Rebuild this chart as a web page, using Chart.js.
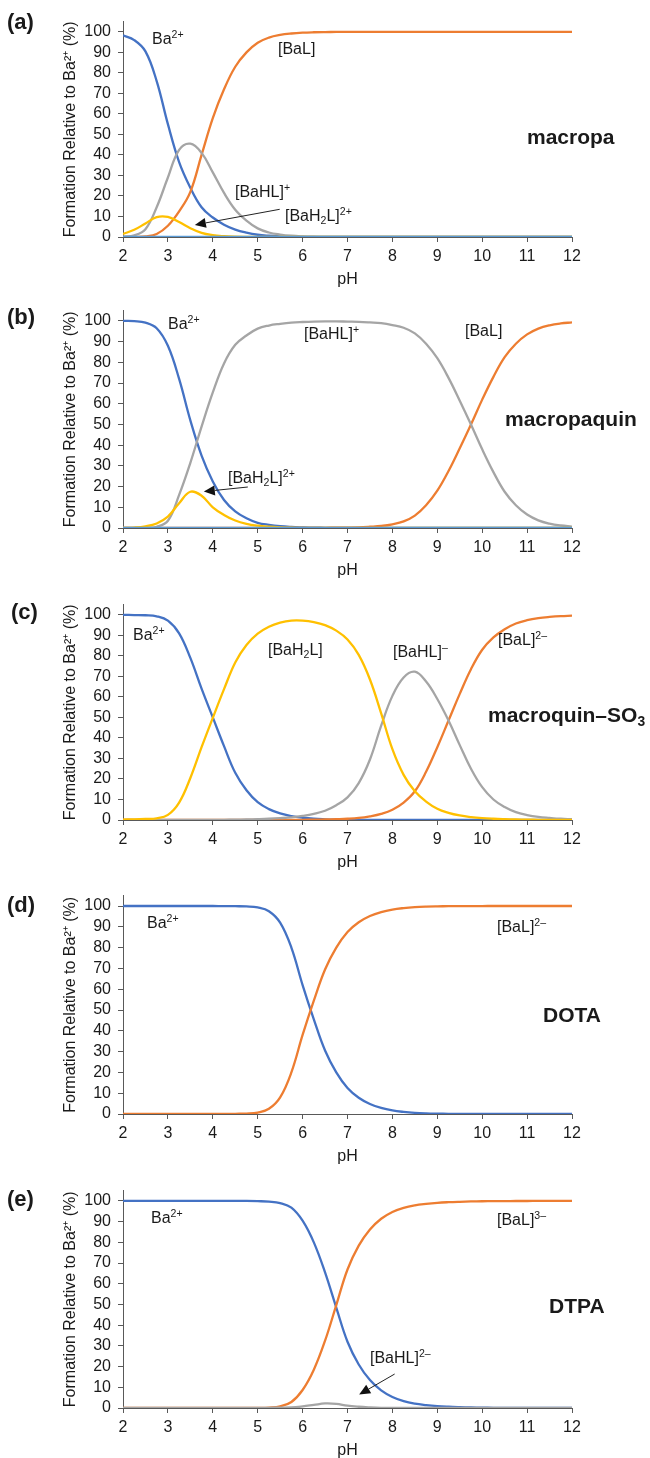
<!DOCTYPE html>
<html><head><meta charset="utf-8">
<script src="https://cdn.jsdelivr.net/npm/chart.js@4.4.1/dist/chart.umd.min.js"></script>
<style>
html,body{margin:0;padding:0;background:#fff;}
body{width:650px;height:1458px;position:relative;overflow:hidden;font-family:"Liberation Sans",Arial,sans-serif;color:#1a1a1a;}
canvas{position:absolute;left:0;}
.lbl{position:absolute;white-space:nowrap;font-size:16px;line-height:16px;}
.lbl sup,.lbl sub{font-size:0.66em;position:relative;vertical-align:baseline;line-height:0;}
.lbl sup{top:-0.55em;}
.lbl sub{top:0.3em;}
.name{font-weight:bold;font-size:21px;line-height:21px;}
.tag{font-weight:bold;font-size:22px;line-height:22px;}
</style></head><body>
<canvas id="ca"></canvas><canvas id="cb"></canvas><canvas id="cc"></canvas><canvas id="cd"></canvas><canvas id="ce"></canvas>

<div class="lbl tag" style="left:7px;top:11px">(a)</div>
<div class="lbl" style="left:152px;top:31px">Ba<sup>2+</sup></div>
<div class="lbl" style="left:278px;top:41px">[BaL]</div>
<div class="lbl" style="left:235px;top:184px">[BaHL]<sup>+</sup></div>
<div class="lbl" style="left:285px;top:208px">[BaH<sub>2</sub>L]<sup>2+</sup></div>
<div class="lbl name" style="left:527px;top:126px">macropa</div>

<div class="lbl tag" style="left:7px;top:306px">(b)</div>
<div class="lbl" style="left:168px;top:316px">Ba<sup>2+</sup></div>
<div class="lbl" style="left:304px;top:326px">[BaHL]<sup>+</sup></div>
<div class="lbl" style="left:465px;top:323px">[BaL]</div>
<div class="lbl" style="left:228px;top:470px">[BaH<sub>2</sub>L]<sup>2+</sup></div>
<div class="lbl name" style="left:505px;top:408px">macropaquin</div>

<div class="lbl tag" style="left:11px;top:601px">(c)</div>
<div class="lbl" style="left:133px;top:627px">Ba<sup>2+</sup></div>
<div class="lbl" style="left:268px;top:642px">[BaH<sub>2</sub>L]</div>
<div class="lbl" style="left:393px;top:644px">[BaHL]<sup>–</sup></div>
<div class="lbl" style="left:498px;top:632px">[BaL]<sup>2–</sup></div>
<div class="lbl name" style="left:488px;top:704px">macroquin–SO<sub>3</sub></div>

<div class="lbl tag" style="left:7px;top:894px">(d)</div>
<div class="lbl" style="left:147px;top:915px">Ba<sup>2+</sup></div>
<div class="lbl" style="left:497px;top:919px">[BaL]<sup>2–</sup></div>
<div class="lbl name" style="left:543px;top:1004px">DOTA</div>

<div class="lbl tag" style="left:7px;top:1188px">(e)</div>
<div class="lbl" style="left:151px;top:1210px">Ba<sup>2+</sup></div>
<div class="lbl" style="left:497px;top:1212px">[BaL]<sup>3–</sup></div>
<div class="lbl name" style="left:549px;top:1295px">DTPA</div>
<div class="lbl" style="left:370px;top:1350px">[BaHL]<sup>2–</sup></div>

<script>
// ---------- data ----------
const pH = [2,2.25,2.5,2.75,3,3.25,3.5,3.75,4,4.25,4.5,4.75,5,5.25,5.5,5.75,6,6.25,6.5,6.75,7,7.25,7.5,7.75,8,8.25,8.5,8.75,9,9.25,9.5,9.75,10,10.25,10.5,10.75,11,11.25,11.5,11.75,12];
const xTicks = [2,3,4,5,6,7,8,9,10,11,12];
const yTicks = [0,10,20,30,40,50,60,70,80,90,100];

// (a) macropa
const aBa    = [98.3,96,90.5,76,55,36.5,24,14.5,9.5,6,3.6,2.1,1.1,0.6,0.3,0.15,0.08,0.04,0.02,0.01,0,0,0,0,0,0,0,0,0,0,0,0,0,0,0,0,0,0,0,0,0];
const aBaH2L = [1.5,3.5,6.6,9.7,9.8,7.3,4.3,2.0,0.9,0.4,0.15,0.06,0.02,0.01,0,0,0,0,0,0,0,0,0,0,0,0,0,0,0,0,0,0,0,0,0,0,0,0,0,0,0];
const aBaHL  = [0.2,0.8,3.8,14.5,29,42.5,45.5,41,31.5,21.5,13.3,8,4.2,2.2,1.2,0.6,0.3,0.15,0.08,0.04,0.02,0,0,0,0,0,0,0,0,0,0,0,0,0,0,0,0,0,0,0,0];
const aBaL   = [0,0.05,0.3,1.5,5.5,12.5,22,40,58,72,83,90,94.7,97.2,98.5,99.2,99.6,99.8,99.9,99.95,100,100,100,100,100,100,100,100,100,100,100,100,100,100,100,100,100,100,100,100,100];
const aOther = [0,0,0,0,0,0,0,0,0,0,0,0,0,0,0,0,0,0,0,0,0,0,0,0,0,0,0,0,0,0,0,0,0,0,0,0,0,0,0,0,0];

// (b) macropaquin
const bBa    = [100,99.9,99.2,96.5,88,72,52,35,22.5,13.5,8,4.7,2.5,1.5,0.85,0.5,0.3,0.15,0.1,0.05,0.03,0,0,0,0,0,0,0,0,0,0,0,0,0,0,0,0,0,0,0,0];
const bBaH2L = [0.05,0.2,0.8,2.2,5.5,12,17.5,15.6,10,6.3,3.6,2.0,1.1,0.6,0.3,0.15,0.08,0.04,0.02,0.01,0,0,0,0,0,0,0,0,0,0,0,0,0,0,0,0,0,0,0,0,0];
const bBaHL  = [0,0.02,0.1,0.6,3.5,16,31.5,49,65.5,79.5,88.5,93,96.3,97.8,98.6,99.2,99.5,99.7,99.8,99.8,99.7,99.6,99.3,98.9,98,96.7,94,89,82,72.5,61.5,50,38,27,17.5,11,6.5,3.7,2.1,1.2,0.7];
const bBaL   = [0,0,0,0,0,0,0,0,0,0,0,0,0,0,0,0,0.05,0.07,0.1,0.15,0.2,0.3,0.6,1.0,1.8,3.2,6,11,18,27.5,38.5,50,62,73,82.5,89,93.5,96.3,97.9,98.8,99.3];
const bOther = [0,0,0,0,0,0,0,0,0,0,0,0,0,0,0,0,0,0,0,0,0,0,0,0,0,0,0,0,0,0,0,0,0,0,0,0,0,0,0,0,0];

// (c) macroquin-SO3
const cBa    = [100,99.9,99.8,99.3,97.2,91,79,64,50,36,23,14.5,8.7,5.3,3.2,1.9,1.1,0.6,0.35,0.2,0.1,0.05,0.03,0,0,0,0,0,0,0,0,0,0,0,0,0,0,0,0,0,0];
const cBaH2L = [0.2,0.3,0.5,0.8,2.5,8.5,20.5,35.5,49.8,63.8,76.8,85.3,90.8,94.2,96.2,97.2,97.2,96.5,95,92.3,88,80.5,68.5,52,34.5,22,14,9,5.5,3.5,2.2,1.4,0.9,0.6,0.4,0.25,0.15,0.1,0.05,0.03,0.02];
const cBaHL  = [0,0,0,0,0,0,0,0.02,0.05,0.1,0.15,0.25,0.4,0.6,0.9,1.3,2.0,3.0,4.5,7.2,11,18,29.5,46,60.5,69.5,72.3,67.5,59,48.5,36.5,25,16,10,6.3,3.8,2.4,1.5,1,0.6,0.4];
const cBaL   = [0,0,0,0,0,0,0,0,0,0,0,0,0,0,0.02,0.04,0.08,0.15,0.25,0.4,0.6,1,1.8,3,5,8.5,14,23.5,35.5,48.5,61.5,73.5,83,89,93,95.8,97.4,98.4,99,99.4,99.6];

// (d) DOTA
const dBa    = [100,100,100,100,100,100,100,100,99.99,99.97,99.9,99.8,99.3,97.5,92,80,62,45.5,30.5,20,12.5,7.8,4.8,2.9,1.7,1.0,0.55,0.3,0.17,0.1,0.05,0.03,0.02,0,0,0,0,0,0,0,0];
const dBaL   = [0,0,0,0,0,0,0,0,0.01,0.03,0.1,0.2,0.7,2.5,8,20,38,54.5,69.5,80,87.5,92.2,95.2,97.1,98.3,99.0,99.45,99.7,99.83,99.9,99.95,99.97,99.98,100,100,100,100,100,100,100,100];

// (e) DTPA
const eBa    = [100,100,100,100,100,100,100,100,100,100,100,100,99.9,99.7,99,96.8,90.5,80,65.5,48.5,32,21,13.5,8.5,5.3,3.3,2.1,1.4,0.9,0.6,0.4,0.25,0.15,0.1,0.06,0.03,0.02,0,0,0,0];
const eBaL   = [0,0,0,0,0,0,0,0,0,0,0,0,0.05,0.2,0.8,2.9,8.7,18.5,32.5,49.7,66.9,78.4,86.2,91.4,94.7,96.7,97.9,98.6,99.1,99.4,99.6,99.75,99.85,99.9,99.94,99.97,99.98,100,100,100,100];
const eBaHL  = [0,0,0,0,0,0,0,0,0,0,0,0,0.05,0.1,0.2,0.3,0.8,1.5,2.2,2.0,1.1,0.6,0.3,0.1,0.05,0,0,0,0,0,0,0,0,0,0,0,0,0,0,0,0];

// annotation arrows (pH, %)
const aArrow = [[5.49,13.5],[3.60,5.9]];
const bArrow = [[4.78,19.8],[3.80,17.6]];
const eArrow = [[8.05,16.4],[7.26,6.5]];

// ---------- drawing ----------
const FONT = '"Liberation Sans", Arial, sans-serif';
const TXT = '#1a1a1a';
const AX = '#595959';
const C = {blue:'#4472C4', orange:'#ED7D31', gray:'#A5A5A5', yellow:'#FFC000', light:'#5B9BD5'};
Chart.defaults.font.family = FONT;

function ds(arr, color){
  return {data: pH.map((x,i)=>({x:x, y:arr[i]})), borderColor: color, backgroundColor: color,
          borderWidth: 2.3, pointRadius: 0, fill: false, tension: 0.4};
}

const arrowPlugin = {
  id: 'arrowAnno',
  afterDatasetsDraw(chart){
    const a = chart.options.plugins.arrowAnno;
    if (!a || !a.pts) return;
    const xs = chart.scales.x, ys = chart.scales.y, ctx = chart.ctx;
    const x1 = xs.getPixelForValue(a.pts[0][0]), y1 = ys.getPixelForValue(a.pts[0][1]);
    const x2 = xs.getPixelForValue(a.pts[1][0]), y2 = ys.getPixelForValue(a.pts[1][1]);
    const ang = Math.atan2(y2-y1, x2-x1), L = 11, W = 5;
    const bx = x2 - L*Math.cos(ang), by = y2 - L*Math.sin(ang);
    ctx.save();
    ctx.strokeStyle = '#222'; ctx.fillStyle = '#111'; ctx.lineWidth = 1;
    ctx.beginPath(); ctx.moveTo(x1,y1); ctx.lineTo(bx,by); ctx.stroke();
    ctx.beginPath(); ctx.moveTo(x2,y2);
    ctx.lineTo(bx + W*Math.sin(ang), by - W*Math.cos(ang));
    ctx.lineTo(bx - W*Math.sin(ang), by + W*Math.cos(ang));
    ctx.closePath(); ctx.fill();
    ctx.restore();
  }
};

function makeChart(id, y105, y0, datasets, arrowPts){
  const cv = document.getElementById(id);
  const top = y105 - 10;
  const h = (y0 - y105) + 10 + 55;
  cv.width = 650; cv.height = h;
  cv.style.top = top + 'px'; cv.style.width = '650px'; cv.style.height = h + 'px';
  const axisCommon = {
    grid: {display:true, drawOnChartArea:false, drawTicks:true, tickLength:5, color:AX, lineWidth:1},
    border: {display:true, color:AX, width:1}
  };
  return new Chart(cv, {
    type: 'line',
    data: {datasets: datasets},
    options: {
      responsive:false, animation:false, devicePixelRatio:1,
      layout:{padding:{top:10, right:78, bottom:0, left:0}},
      plugins:{legend:{display:false}, tooltip:{enabled:false}, arrowAnno:{pts:arrowPts}},
      scales:{
        x: Object.assign({}, axisCommon, {
          type:'linear', min:2, max:12,
          afterBuildTicks(s){ s.ticks = xTicks.map(v=>({value:v})); },
          ticks:{color:TXT, font:{size:16, family:FONT}, padding:5, maxRotation:0, autoSkip:false},
          title:{display:true, text:'pH', color:TXT, font:{size:16, family:FONT}, padding:{top:0,bottom:3}},
          afterFit(s){ s.height = 55; }
        }),
        y: Object.assign({}, axisCommon, {
          type:'linear', min:0, max:105,
          afterBuildTicks(s){ s.ticks = yTicks.map(v=>({value:v})); },
          ticks:{color:TXT, font:{size:16, family:FONT}, padding:7, autoSkip:false},
          title:{display:true, text:'Formation Relative to Ba²⁺ (%)', color:TXT, font:{size:16, family:FONT}, padding:{top:61,bottom:0}},
          afterFit(s){ s.width = 123; }
        })
      }
    },
    plugins:[arrowPlugin]
  });
}

makeChart('ca', 15, 237, [ds(aOther,C.light), ds(aBaH2L,C.yellow), ds(aBaHL,C.gray), ds(aBaL,C.orange), ds(aBa,C.blue)], aArrow);
makeChart('cb', 304, 528, [ds(bOther,C.light), ds(bBaH2L,C.yellow), ds(bBaHL,C.gray), ds(bBaL,C.orange), ds(bBa,C.blue)], bArrow);
makeChart('cc', 598, 820, [ds(cBaH2L,C.yellow), ds(cBaHL,C.gray), ds(cBaL,C.orange), ds(cBa,C.blue)], null);
makeChart('cd', 889, 1114, [ds(dBaL,C.orange), ds(dBa,C.blue)], null);
makeChart('ce', 1184, 1408, [ds(eBaHL,C.gray), ds(eBaL,C.orange), ds(eBa,C.blue)], eArrow);
</script>
</body></html>
